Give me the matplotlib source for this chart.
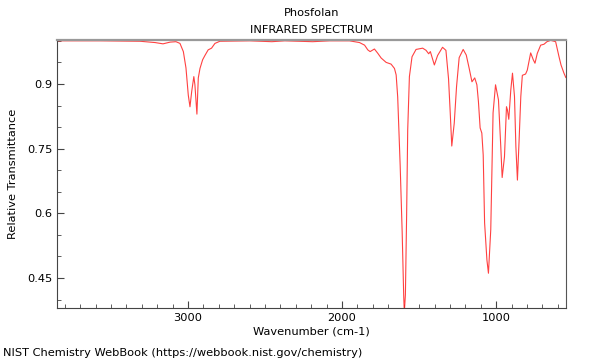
import numpy as np
import matplotlib
matplotlib.use('Agg')
from matplotlib import pyplot as plt
from matplotlib.ticker import MultipleLocator

# spectrum (wavenumber in cm-1, relative transmittance)
wavenumber = [3850, 3570, 3311, 3214, 3162, 3116, 3078, 3052, 3030, 3013,
              2998, 2987, 2976, 2962, 2955, 2942, 2933, 2922, 2905, 2890,
              2869, 2847, 2825, 2793, 2599, 2456, 2372, 2191, 2081, 1952,
              1887, 1854, 1833, 1818, 1790, 1768, 1746, 1714, 1682, 1660,
              1649, 1639, 1623, 1610, 1600, 1596, 1589, 1581, 1574, 1563,
              1546, 1520, 1477, 1455, 1438, 1427, 1401, 1380, 1348, 1326,
              1309, 1298, 1288, 1272, 1257, 1240, 1214, 1194, 1175, 1157,
              1139, 1125, 1115, 1104, 1093, 1084, 1075, 1060, 1050, 1035,
              1020, 1004, 985, 970, 961, 946, 933, 927, 918, 905,
              894, 881, 872, 862, 851, 840, 830, 809, 798, 776,
              759, 748, 733, 711, 690, 670, 646, 614, 592, 579,
              560, 548]
transmittance = [1.000, 1.000, 0.999, 0.996, 0.993, 0.997, 0.998, 0.994, 0.975, 0.937,
                 0.874, 0.847, 0.882, 0.917, 0.898, 0.830, 0.914, 0.936, 0.956, 0.966,
                 0.979, 0.983, 0.994, 0.999, 1.000, 0.998, 1.000, 0.998, 1.000, 1.000,
                 0.996, 0.990, 0.979, 0.975, 0.981, 0.971, 0.960, 0.950, 0.946, 0.936,
                 0.921, 0.870, 0.712, 0.557, 0.409, 0.370, 0.411, 0.596, 0.793, 0.917,
                 0.963, 0.980, 0.983, 0.978, 0.970, 0.975, 0.944, 0.966, 0.985, 0.978,
                 0.912, 0.833, 0.756, 0.809, 0.894, 0.961, 0.980, 0.967, 0.936, 0.905,
                 0.914, 0.898, 0.859, 0.798, 0.786, 0.735, 0.578, 0.492, 0.461, 0.562,
                 0.833, 0.898, 0.863, 0.755, 0.683, 0.731, 0.847, 0.840, 0.818, 0.886,
                 0.925, 0.871, 0.755, 0.677, 0.770, 0.871, 0.920, 0.923, 0.932, 0.972,
                 0.956, 0.948, 0.971, 0.990, 0.992, 0.998, 1.001, 0.998, 0.963, 0.944,
                 0.925, 0.915]

xticks = [3000, 2000, 1000]
yticks = [0.45, 0.6, 0.75, 0.9]

plt.rcParams['font.family'] = 'DejaVu Sans'
fs = 8.2

fig = plt.figure(figsize=(6, 3.6), dpi=100)
ax = fig.add_axes([0.095, 0.144, 0.848, 0.745])

ax.plot(wavenumber, transmittance, color='#ff2020', lw=0.8, alpha=0.85)

ax.set_xlim(3850, 548)
ax.set_ylim(0.38, 1.002)
ax.set_xticks(xticks)
ax.set_xticklabels([str(t) for t in xticks])
ax.set_yticks(yticks)
ax.set_yticklabels(['0.45', '0.6', '0.75', '0.9'])
ax.xaxis.set_minor_locator(MultipleLocator(100))
ax.yaxis.set_minor_locator(MultipleLocator(0.05))
ax.tick_params(which='both', direction='in', top=False, right=False,
               color='#444444', labelsize=fs)
ax.tick_params(which='major', length=5)
ax.tick_params(which='minor', length=3)

ax.spines['top'].set_color('#999999')
ax.spines['top'].set_linewidth(1.6)
ax.spines['right'].set_color('#555555')
ax.spines['left'].set_color('#444444')
ax.spines['bottom'].set_color('#444444')

ax.set_xlabel('Wavenumber (cm-1)', fontsize=fs)
ax.xaxis.set_label_coords(0.5, -0.07)
ax.set_ylabel('Relative Transmittance', fontsize=fs)
ax.yaxis.set_label_coords(-0.077, 0.5)
fig.text(0.5 * (0.095 + 0.943), 0.965, 'Phosfolan', ha='center', va='center', fontsize=fs)
fig.text(0.5 * (0.095 + 0.943), 0.918, 'INFRARED SPECTRUM', ha='center', va='center', fontsize=fs)
fig.text(0.005, 0.02, 'NIST Chemistry WebBook (https://webbook.nist.gov/chemistry)',
         ha='left', va='center', fontsize=fs)

plt.savefig('out.png', dpi=100)
